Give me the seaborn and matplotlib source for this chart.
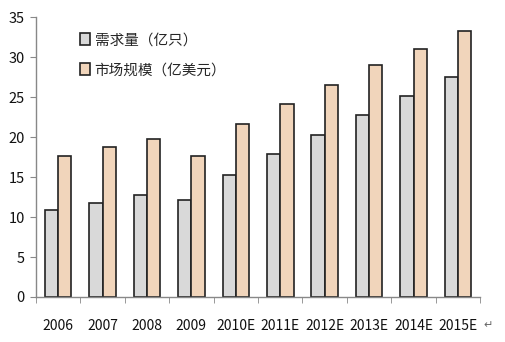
import matplotlib
matplotlib.use("Agg")
import matplotlib.pyplot as plt
import seaborn as sns
import pandas as pd
import numpy as np
from matplotlib.ticker import FixedLocator

years = ["2006", "2007", "2008", "2009", "2010E", "2011E", "2012E", "2013E", "2014E", "2015E"]
demand = [10.9, 11.8, 12.8, 12.1, 15.3, 17.9, 20.3, 22.8, 25.1, 27.5]
market = [17.6, 18.7, 19.8, 17.6, 21.6, 24.1, 26.5, 29.0, 31.0, 33.3]
series_names = ["需求量（亿只）", "市场规模（亿美元）"]
colors = ["#D9D9D9", "#FAD5B2"]

sns.set_style("white")
plt.rcParams['font.family'] = ['Noto Sans CJK SC', 'DejaVu Sans']

df = pd.DataFrame({
    "year": years * 2,
    "value": demand + market,
    "series": [series_names[0]] * len(years) + [series_names[1]] * len(years),
})

fig = plt.figure(figsize=(5.06, 3.42), dpi=100)
ax = fig.add_axes([0.071, 0.1316, 0.878, 0.8184])
sns.barplot(data=df, x="year", y="value", hue="series", order=years,
            hue_order=series_names, palette=colors, width=0.6,
            edgecolor="#222222", linewidth=1.2, ax=ax)

ax.set_xlim(-0.5, len(years) - 0.5)
ax.set_ylim(0, 35)
ax.set_yticks(np.arange(0, 36, 5))
ax.set_xlabel("")
ax.set_ylabel("")
for s in ["top", "right"]:
    ax.spines[s].set_visible(False)
for s in ["left", "bottom"]:
    ax.spines[s].set_color("#888888")
    ax.spines[s].set_linewidth(1.0)
ax.tick_params(axis="y", which="major", length=4, color="#888888", labelsize=10.5, pad=4, left=True)
ax.tick_params(axis="x", which="major", length=0, labelsize=10, pad=16)
ax.xaxis.set_minor_locator(FixedLocator(np.arange(-0.5, len(years), 1.0)))
ax.tick_params(axis="x", which="minor", length=4, color="#888888", bottom=True, direction="out")
for lab in ax.get_xticklabels() + ax.get_yticklabels():
    lab.set_color("#111111")

leg = ax.legend(loc="upper left", bbox_to_anchor=(0.07, 0.99), frameon=False,
                fontsize=10.5, handlelength=0.7, handleheight=0.9, handletextpad=0.3,
                labelspacing=1.1)

fig.text(0.965, 0.05, "↵", fontsize=8, color="#666666", ha="center", va="center")
fig.savefig("out.png", dpi=100)
